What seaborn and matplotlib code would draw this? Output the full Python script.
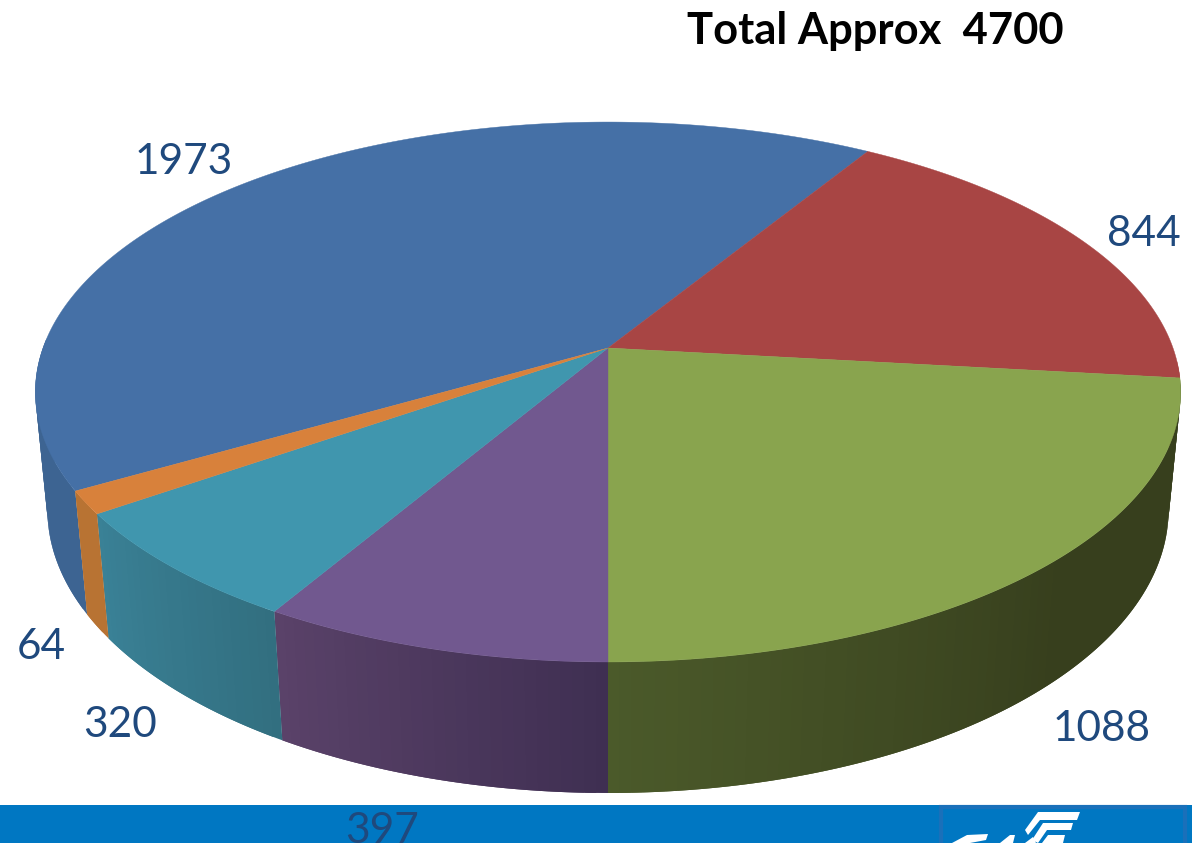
import numpy as np
import matplotlib
matplotlib.use("Agg")
import matplotlib.pyplot as plt
import matplotlib.colors as mc
from matplotlib.patches import Polygon, Rectangle
import seaborn as sns

# ---- data ----
values = [1973, 844, 1088, 397, 320, 64]
labels = ["1973", "844", "1088", "397", "320", "64"]
top_colors = ["#4570a6", "#a84544", "#89a44e", "#71588f", "#4096ae", "#d8813b"]
side_left = ["#3d6492", "#a84544", "#4b5a2a", "#5a4269", "#3a8196", "#b87333"]
side_right = ["#3d6492", "#a84544", "#373f1d", "#3f2f52", "#326f80", "#b87333"]
title = "Total Approx  4700"

# ---- projection of the round pie onto the page (pixels) ----
CX, CY = 608.0, 348.0
A, B, K = 565.0, 262.8, 0.163
DROP, FAR = 119.0, 0.021
START = 240.0


def project(theta, lower=False):
    t = np.radians(theta)
    X, Y = np.sin(t), np.cos(t)
    w = 1 + K * Y + (FAR if lower else 0)
    return CX + A * X / w, CY + (-B * Y + (DROP if lower else 0)) / w


sns.set_theme(style="white")
plt.rcParams["font.family"] = ["Lato", "DejaVu Sans"]
fig = plt.figure(figsize=(11.92, 8.43), dpi=100)
ax = fig.add_axes([0, 0, 1, 1])
ax.set_xlim(0, 1192)
ax.set_ylim(843, 0)
ax.axis("off")

# footer band and cropped logo
ax.add_patch(Rectangle((0, 805), 1192, 38, fc="#0077c2", ec="none", zorder=0))
ax.add_patch(Rectangle((941, 807), 244, 40, fc="#0077c2", ec="#1a70ba", lw=3, zorder=0.5))
for pts in ([(1038, 812), (1080, 812), (1077, 820), (1040, 820), (1028, 835), (1025, 830)],
            [(1043, 823), (1073, 823), (1071, 830), (1047, 830), (1038, 843), (1032, 840)],
            [(1048, 835), (1065, 835), (1063, 843), (1042, 843)],
            [(952, 843), (967, 835), (988, 834), (986, 840), (970, 843)],
            [(1000, 843), (1010, 835), (1015, 835), (1013, 843)],
            [(1025, 843), (1033, 837), (1036, 843)]):
    ax.add_patch(Polygon(pts, fc="white", ec="none", zorder=1))

fracs = np.array(values, float) / sum(values) * 360.0
edges = START + np.concatenate([[0], np.cumsum(fracs)])


def wall(s, e, colour_at):
    """Wall between angles s and e; each strip overlaps the next to hide seams."""
    ths = np.linspace(s, e, max(2, int(e - s) + 1))
    step = ths[1] - ths[0]
    for t0, t1 in zip(ths[:-1], ths[1:]):
        t2 = min(t1 + step, e)
        q = [project(t) for t in np.linspace(t0, t2, 5)]
        q += [project(t, True) for t in np.linspace(t2, t0, 5)]
        ax.add_patch(Polygon(q, fc=colour_at(0.5 * (t0 + t1)), ec="none", zorder=2))


# side walls: only the part of the rim that faces the viewer (93..272 deg)
for i in range(len(values)):
    a, b = edges[i] % 360, edges[i + 1] % 360
    if b <= a:
        b += 360
    s, e = max(a, 93.0), min(b, 272.0)
    if e <= s:
        continue
    c_r = np.array(mc.to_rgb(side_right[i]))
    c_l = np.array(mc.to_rgb(side_left[i]))
    if values[i] == 1088:
        # dark on the right, lightening towards the front
        fn = lambda t, cr=c_r, cl=c_l: cr + (cl - cr) * np.clip((t - 135) / 45, 0, 1)
    else:
        fn = lambda t, cr=c_r, cl=c_l, s0=a, e0=b: cr + (cl - cr) * (t - s0) / (e0 - s0)
    wall(s, e, fn)

# top face
for i in range(len(values)):
    ths = np.linspace(edges[i], edges[i + 1], max(2, int(fracs[i] * 2)))
    pts = [(CX, CY)] + [project(t) for t in ths]
    ax.add_patch(Polygon(pts, fc=top_colors[i], ec=top_colors[i], lw=0.3, zorder=3))

# labels
label_xy = [(184, 162), (1144, 234), (1102, 729), (382, 831), (120, 725), (41, 647)]
for s, (x, y) in zip(labels, label_xy):
    ax.text(x, y, s, color="#1f497d", fontsize=30.5, ha="center", va="center", zorder=4)

ax.text(875, 31, title, color="black", fontsize=31.3, fontweight="bold",
        ha="center", va="center", zorder=4)

fig.savefig("out.png", dpi=100)
